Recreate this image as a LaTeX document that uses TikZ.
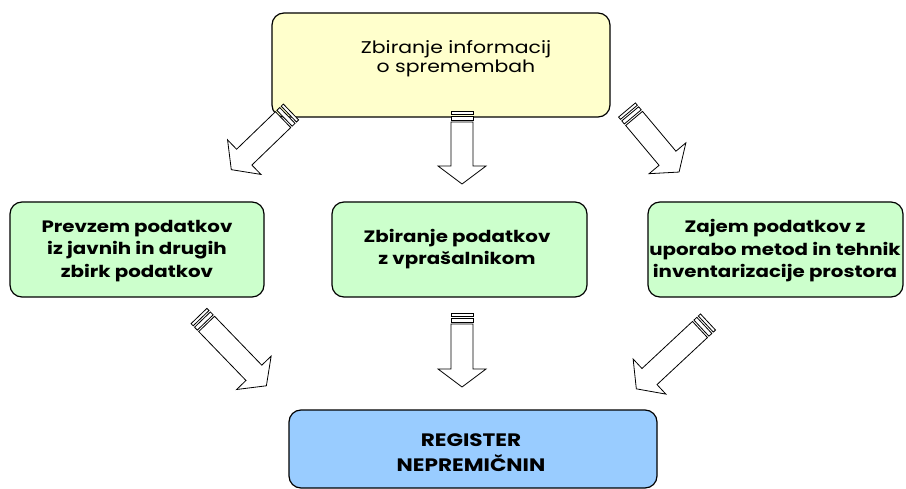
\documentclass[tikz,border=0pt]{standalone}
\usepackage{fontspec}
\setmainfont[FakeStretch=1.2]{Poppins}
\definecolor{topfill}{HTML}{FFFFCC}
\definecolor{midfill}{HTML}{CCFFCC}
\definecolor{botfill}{HTML}{99CCFF}
\newcommand\stripedarrow[3]{% #1 tail, #2 angle, #3 length
  \begin{scope}[shift={#1}, rotate=#2, line width=0.8pt, fill=white, draw=black]
    \filldraw (0pt,-11pt) rectangle (3pt,11pt);
    \filldraw (5pt,-11pt) rectangle (9pt,11pt);
    \filldraw (11pt,-11pt) -- ({#3*1pt-18pt},-11pt) -- ({#3*1pt-18pt},-24pt) -- ({#3*1pt},0pt)
      -- ({#3*1pt-18pt},24pt) -- ({#3*1pt-18pt},11pt) -- (11pt,11pt) -- cycle;
  \end{scope}}
\begin{document}
\begin{tikzpicture}[x=1pt,y=-1pt,
  box/.style={draw=black, line width=1.2pt, rounded corners=12pt, inner sep=0pt},
  txt/.style={align=center, inner sep=0pt},
  btxt/.style={txt, font=\fontsize{16.5}{22.5}\selectfont\bfseries},
  rtxt/.style={txt, font=\fontsize{17}{19}\selectfont}]
\useasboundingbox (0,0) rectangle (906,489);
% boxes
\node[box, fill=topfill, minimum width=338pt, minimum height=104pt] (top) at (441,65) {};
\node[box, fill=midfill, minimum width=254pt, minimum height=95pt] (left) at (137,249.5) {};
\node[box, fill=midfill, minimum width=255pt, minimum height=95pt] (mid) at (459.5,249.5) {};
\node[box, fill=midfill, minimum width=255pt, minimum height=95pt] (right) at (775.5,249.5) {};
\node[box, fill=botfill, minimum width=368pt, minimum height=78pt] (reg) at (473,449) {};
% texts
\node[rtxt] (toptxt) at (456,59) {Zbiranje informacij\\ o spremembah};
\node[btxt] (lefttxt) at (137,251) {Prevzem podatkov\\iz javnih in drugih\\zbirk podatkov};
\node[btxt] (midtxt) at (457,249) {Zbiranje podatkov\\z vprašalnikom};
\node[btxt] (righttxt) at (775,251) {Zajem podatkov z\\uporabo metod in tehnik\\inventarizacije prostora};
\node[btxt, font=\fontsize{18}{25}\selectfont\bfseries] (regtxt) at (471,453) {REGISTER\\NEPREMIČNIN};
% arrows
\stripedarrow{(291,112)}{224}{83}
\stripedarrow{(462,111)}{270}{73}
\stripedarrow{(627,110)}{-50}{81}
\stripedarrow{(199,316)}{-46}{97}
\stripedarrow{(462,313)}{270}{74}
\stripedarrow{(708,322)}{223}{98}
\end{tikzpicture}
\end{document}
